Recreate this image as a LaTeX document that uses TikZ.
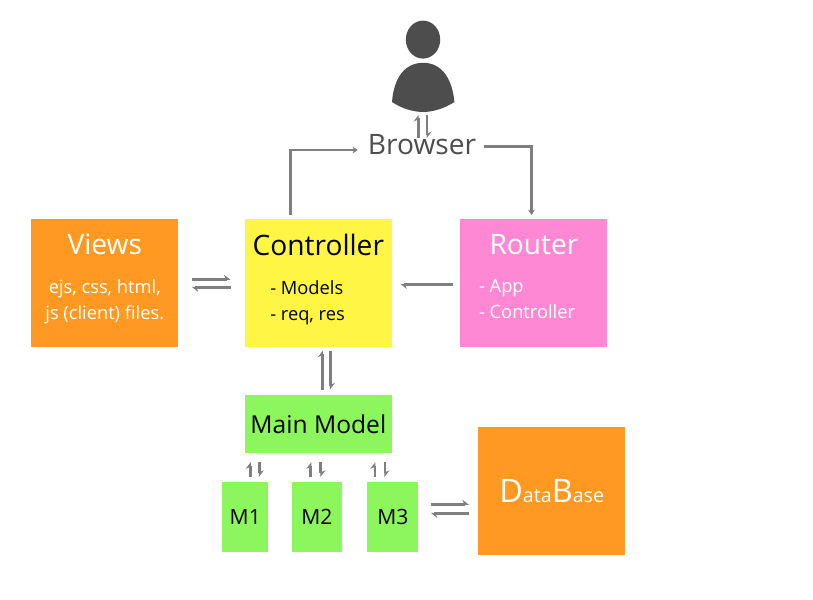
\documentclass[tikz,border=0pt]{standalone}
\usepackage{fontspec}
\setmainfont{Open Sans}
\usetikzlibrary{arrows.meta,positioning,calc}
\definecolor{orangebox}{HTML}{FF9922}
\definecolor{yellowbox}{HTML}{FFF544}
\definecolor{pinkbox}{HTML}{FF88D4}
\definecolor{greenbox}{HTML}{8CF75C}
\definecolor{linegray}{HTML}{7F7F7F}
\definecolor{usergray}{HTML}{4D4D4D}
\tikzset{
  blk/.style={rectangle, minimum width=3.675cm, minimum height=3.2cm, inner sep=0pt},
  mblk/.style={rectangle, fill=greenbox, minimum height=1.75cm, inner sep=0pt, font=\fontsize{15}{17}\selectfont},
  ttl/.style={inner sep=0pt, font=\fontsize{20}{23}\selectfont},
  lst/.style={inner sep=0pt, align=left, font=\fontsize{13}{18.5}\selectfont},
  arr/.style={-{Stealth[length=1.3mm, width=1.7mm]}, linegray, line width=0.7mm},
  harr/.style={-{Stealth[harpoon, length=1.5mm, width=2.3mm]}, linegray, line width=0.7mm},
}

\begin{document}
\begin{tikzpicture}
\useasboundingbox (0,0) rectangle (20.325,-14.975);

% user icon
\fill[usergray] (10.575,-0.99) ellipse (0.43cm and 0.475cm);
\fill[usergray] (9.8,-2.55) .. controls (9.85,-1.9) and (10.15,-1.57) .. (10.58,-1.57)
  .. controls (11.0,-1.57) and (11.3,-1.9) .. (11.36,-2.55)
  .. controls (11.1,-2.72) and (10.8,-2.8) .. (10.58,-2.8)
  .. controls (10.35,-2.8) and (10.05,-2.72) .. (9.8,-2.55) -- cycle;
\coordinate (user) at (10.575,-2.8);

\node[inner sep=0pt, text=usergray, font=\fontsize{20}{23}\selectfont] (browser) at (10.55,-3.62) {Browser};

\node[blk, fill=orangebox, anchor=north west] (views) at (0.775,-5.475) {};
\node[blk, fill=yellowbox, right=1.65cm of views] (controller) {};
\node[blk, fill=pinkbox, right=1.7cm of controller] (router) {};
\node[rectangle, fill=greenbox, minimum width=3.675cm, minimum height=1.45cm, inner sep=0pt,
  font=\fontsize{17.5}{20}\selectfont, below=1.175cm of controller] (mainmodel) {Main Model};

\node[mblk, minimum width=1.15cm, anchor=north west] (m1) at (5.55,-12.05) {M1};
\node[mblk, minimum width=1.25cm, right=0.575cm of m1] (m2) {M2};
\node[mblk, minimum width=1.275cm, right=0.625cm of m2] (m3) {M3};
\node[blk, fill=orangebox, text=white, anchor=north west] (database) at (11.95,-10.675)
  {\fontsize{23}{24}\selectfont D\fontsize{14}{24}\selectfont ata\fontsize{23}{24}\selectfont B\fontsize{14}{24}\selectfont ase};

\node[ttl, text=white, below=0.36cm of views.north] (viewsttl) {Views};
\node[lst, text=white, align=center, below=1.5cm of views.north] (viewslst) {ejs, css, html,\\js (client) files.};
\node[ttl, below=0.38cm of controller.north] (controllerttl) {Controller};
\node[lst, anchor=north west] (controllerlst) at (6.75,-7.0) {- Models\\- req, res};
\node[ttl, text=white, below=0.38cm of router.north] (routerttl) {Router};
\node[lst, text=white, anchor=north west] (routerlst) at (11.97,-6.97) {- App\\- Controller};

% browser connectors
\draw[arr, shorten >=0.25cm, shorten <=0.1cm] ([xshift=-0.7cm]controller.north) |- ([yshift=-0.13cm]browser.west);
\draw[arr, shorten <=0.2cm, shorten >=0.1cm] ([yshift=-0.05cm]browser.east) -| ([xshift=-0.06cm]router.north);
\draw[harr, shorten <=-0.1cm, shorten >=0.07cm] ([xshift=-0.12cm]user |- browser.north) -- ([xshift=-0.12cm]user);
\draw[harr, shorten <=0.07cm, shorten >=-0.1cm] ([xshift=0.1cm]user) -- ([xshift=0.1cm]user |- browser.north);

% horizontal pairs
\draw[harr, shorten <=0.325cm, shorten >=0.35cm] ([yshift=0.1cm]views.east) -- ([yshift=0.1cm]controller.west);
\draw[harr, shorten <=0.35cm, shorten >=0.325cm] ([yshift=-0.1cm]controller.west) -- ([yshift=-0.1cm]views.east);
\draw[harr, shorten <=0.175cm, shorten >=0.2cm] ([yshift=-0.025cm]router.west) -- ([yshift=-0.025cm]controller.east);
\draw[harr, shorten <=0.3cm, shorten >=0.225cm] ([yshift=0.325cm]m3.east) -- ([yshift=0.325cm]m3.east -| database.west);
\draw[harr, shorten <=0.225cm, shorten >=0.3cm] ([yshift=0.1cm]m3.east -| database.west) -- ([yshift=0.1cm]m3.east);

% vertical pairs
\draw[harr, shorten <=0.125cm, shorten >=0.075cm] ([xshift=0.1cm]mainmodel.north) -- ([xshift=0.1cm]controller.south);
\draw[harr, shorten <=0.075cm, shorten >=0.125cm] ([xshift=0.3cm]controller.south) -- ([xshift=0.3cm]mainmodel.north);
\draw[harr, shorten <=0.125cm, shorten >=0.225cm] ([xshift=0.125cm]m1.north) -- ([xshift=0.125cm]m1.north |- mainmodel.south);
\draw[harr, shorten <=0.225cm, shorten >=0.125cm] ([xshift=0.35cm]m1.north |- mainmodel.south) -- ([xshift=0.35cm]m1.north);
\draw[harr, shorten <=0.125cm, shorten >=0.225cm] ([xshift=-0.15cm]m2.north) -- ([xshift=-0.15cm]m2.north |- mainmodel.south);
\draw[harr, shorten <=0.225cm, shorten >=0.125cm] ([xshift=0.1cm]m2.north |- mainmodel.south) -- ([xshift=0.1cm]m2.north);
\draw[harr, shorten <=0.125cm, shorten >=0.225cm] ([xshift=-0.45cm]m3.north) -- ([xshift=-0.45cm]m3.north |- mainmodel.south);
\draw[harr, shorten <=0.225cm, shorten >=0.125cm] ([xshift=-0.2cm]m3.north |- mainmodel.south) -- ([xshift=-0.2cm]m3.north);
\end{tikzpicture}
\end{document}
